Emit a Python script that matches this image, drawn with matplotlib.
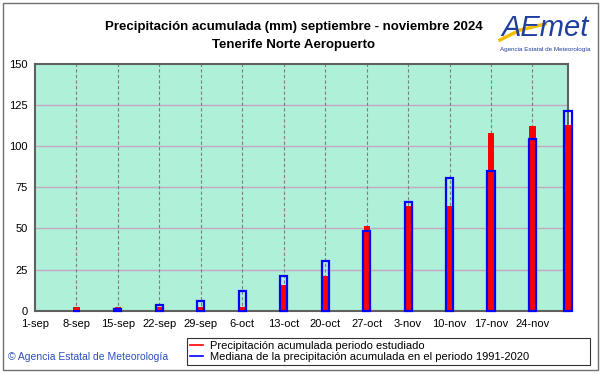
import matplotlib
matplotlib.use("Agg")
import matplotlib.pyplot as plt
import pandas as pd
from matplotlib.patches import Rectangle
from matplotlib.lines import Line2D

plt.rcParams['font.family'] = ['Liberation Sans', 'DejaVu Sans']

# ---- data ----
dates = ['2024-09-08', '2024-09-15', '2024-09-22', '2024-09-29', '2024-10-06',
         '2024-10-13', '2024-10-20', '2024-10-27', '2024-11-03', '2024-11-10',
         '2024-11-17', '2024-11-24', '2024-11-30']
observed = [2.0, 2.0, 2.2, 2.2, 2.2, 15.5, 21.0, 51.5, 63.8, 63.8, 108.0, 112.0, 112.5]
median = [0.0, 0.8, 3.3, 6.0, 12.0, 20.8, 30.2, 48.4, 66.2, 80.4, 85.0, 104.0, 121.0]
tick_dates = ['2024-09-01', '2024-09-08', '2024-09-15', '2024-09-22', '2024-09-29',
              '2024-10-06', '2024-10-13', '2024-10-20', '2024-10-27', '2024-11-03',
              '2024-11-10', '2024-11-17', '2024-11-24']
tick_labels = ['1-sep', '8-sep', '15-sep', '22-sep', '29-sep', '6-oct', '13-oct',
               '20-oct', '27-oct', '3-nov', '10-nov', '17-nov', '24-nov']
y_ticks = [0, 25, 50, 75, 100, 125, 150]

legend_labels = ['Precipitación acumulada periodo estudiado',
                 'Mediana de la precipitación acumulada en el periodo 1991-2020']

x = pd.to_datetime(dates)
xt = pd.to_datetime(tick_dates)

fig = plt.figure(figsize=(6.01, 3.74), dpi=100)
fig.patch.set_facecolor('white')
ax = fig.add_axes([35/601, 1-310.7/374, (568-35)/601, (310.7-63.7)/374])
ax.set_facecolor('#aef0d8')

# grid
for v in y_ticks[1:-1]:
    ax.axhline(v, color='#c4a8c4', lw=1.0, zorder=1)
for d in xt[1:]:
    ax.axvline(d, color='#808080', lw=0.8, ls=(0, (3, 2)), zorder=1)

ax.bar(x, observed, width=1.05, color='#ff0000', edgecolor='none', zorder=3, clip_on=False)
ax.bar(x, median, width=1.2, facecolor='none', edgecolor='#0000ff', linewidth=1.6,
       zorder=4, clip_on=False)

ax.set_xlim(pd.Timestamp('2024-09-01'), pd.Timestamp('2024-11-30'))
ax.set_ylim(0, 150)
ax.set_yticks(y_ticks)
ax.set_yticklabels([str(v) for v in y_ticks], fontsize=8)
ax.set_xticks(xt)
ax.set_xticklabels(tick_labels, fontsize=8)
ax.tick_params(axis='both', length=0)
ax.tick_params(axis='y', pad=5)
ax.tick_params(axis='x', pad=6)
for s in ax.spines.values():
    s.set_color('#606060')
    s.set_linewidth(1.5)

# title
fig.text(294/601, 1-27/374, 'Precipitación acumulada (mm) septiembre - noviembre 2024',
         ha='center', va='center', fontsize=9.5, fontweight='bold')
fig.text(294/601, 1-45/374, 'Tenerife Norte Aeropuerto',
         ha='center', va='center', fontsize=9.5, fontweight='bold')

# logo approximation
fig.text(545/601, 1-28/374, 'AEmet', ha='center', va='center', fontsize=21,
         color='#1f3fa0', style='italic')
fig.add_artist(Line2D([500/601, 520/601, 545/601], [1-40/374, 1-30/374, 1-24/374],
                      color='#f0c000', lw=2.5))
fig.text(545/601, 1-50/374, 'Agencia Estatal de Meteorología', ha='center', va='center',
         fontsize=4.5, color='#1f3fa0')

# copyright
fig.text(8/601, 1-357/374, '© Agencia Estatal de Meteorología', ha='left', va='center',
         fontsize=7.5, color='#3050c0')

# legend
handles = [Line2D([], [], color='#ff0000', lw=1.2), Line2D([], [], color='#0000ff', lw=1.2)]
leg = fig.legend(handles, legend_labels, loc='center left',
                 bbox_to_anchor=(187/601, 1-366/374, (590-187)/601, 29/374),
                 mode='expand', fontsize=8, frameon=True, fancybox=False,
                 handlelength=1.2, handletextpad=0.6, borderpad=0.25, labelspacing=0.15,
                 borderaxespad=0)
leg.get_frame().set_edgecolor('black')
leg.get_frame().set_linewidth(0.8)

# outer border
fig.add_artist(Rectangle((2.5/601, 4/374), 595.5/601, 367/374, transform=fig.transFigure,
                         fill=False, edgecolor='#707070', lw=1))

fig.savefig('out.png', dpi=100)
